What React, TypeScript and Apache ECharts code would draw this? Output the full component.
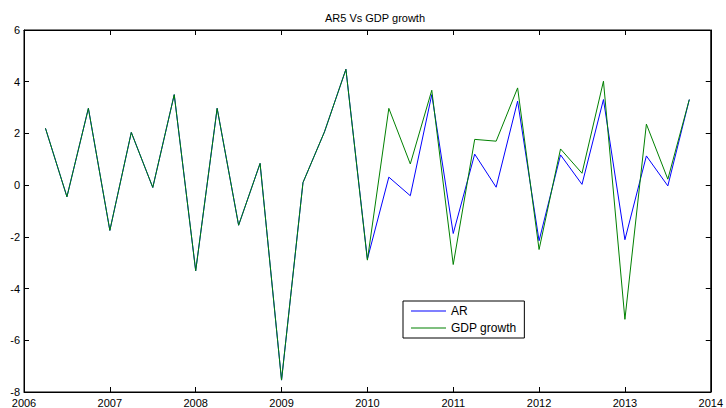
import React, { useEffect, useRef } from "react";
import * as echarts from "echarts";

const quarters = [
  2006.25, 2006.5, 2006.75, 2007, 2007.25, 2007.5, 2007.75, 2008, 2008.25, 2008.5, 2008.75,
  2009, 2009.25, 2009.5, 2009.75, 2010, 2010.25, 2010.5, 2010.75, 2011, 2011.25, 2011.5,
  2011.75, 2012, 2012.25, 2012.5, 2012.75, 2013, 2013.25, 2013.5, 2013.75,
];

const arValues = [
  2.2, -0.45, 2.97, -1.75, 2.04, -0.09, 3.5, -3.31, 2.97, -1.55, 0.84,
  -7.54, 0.1, 2.06, 4.48, -2.86, 0.31, -0.41, 3.5, -1.87, 1.2, -0.08,
  3.25, -2.15, 1.17, 0.03, 3.31, -2.11, 1.13, -0.03, 3.31,
];

const gdpValues = [
  2.2, -0.45, 2.97, -1.75, 2.04, -0.09, 3.5, -3.31, 2.97, -1.55, 0.84,
  -7.54, 0.1, 2.06, 4.48, -2.9, 2.97, 0.82, 3.67, -3.07, 1.77, 1.7,
  3.76, -2.49, 1.4, 0.46, 4.02, -5.19, 2.36, 0.23, 3.31,
];

const FONT = "Liberation Sans, Arial, sans-serif";

export default function App() {
  const ref = useRef<HTMLDivElement>(null);
  useEffect(() => {
    if (!ref.current) return;
    const chart = echarts.init(ref.current, null, { renderer: "svg" });
    const tick = { show: true, inside: true, length: 5, lineStyle: { color: "#000", width: 1 } };
    chart.setOption({
      animation: false,
      backgroundColor: "#fff",
      textStyle: { fontFamily: FONT },
      title: {
        text: "AR5 Vs GDP growth",
        left: 370,
        textAlign: "center",
        top: 7,
        textStyle: { fontSize: 11, fontWeight: "normal", color: "#000", fontFamily: FONT },
      },
      grid: {
        left: 24,
        right: 10,
        top: 30,
        bottom: 16,
        show: true,
        borderColor: "#000",
        borderWidth: 1,
        backgroundColor: "#fff",
      },
      legend: {
        orient: "vertical",
        left: 403,
        top: 301,
        padding: [3, 8, 3, 8],
        itemGap: 3,
        itemWidth: 35,
        itemHeight: 1,
        icon: "rect",
        borderColor: "#000",
        borderWidth: 1,
        backgroundColor: "#fff",
        textStyle: { fontSize: 12, color: "#000", fontFamily: FONT, lineHeight: 14 },
        data: ["AR", "GDP growth"],
      },
      xAxis: [
        {
          type: "value",
          min: 2006,
          max: 2014,
          interval: 1,
          axisLine: { show: true, onZero: false, lineStyle: { color: "#000" } },
          axisTick: tick,
          splitLine: { show: false },
          axisLabel: {
            color: "#000",
            fontSize: 11,
            margin: 5,
            fontFamily: FONT,
            formatter: (v: number) => String(v),
          },
        },
        {
          type: "value",
          position: "top",
          min: 2006,
          max: 2014,
          interval: 1,
          axisLine: { show: true, onZero: false, lineStyle: { color: "#000" } },
          axisTick: tick,
          splitLine: { show: false },
          axisLabel: { show: false },
        },
      ],
      yAxis: [
        {
          type: "value",
          min: -8,
          max: 6,
          interval: 2,
          axisLine: { show: true, onZero: false, lineStyle: { color: "#000" } },
          axisTick: tick,
          splitLine: { show: false },
          axisLabel: { color: "#000", fontSize: 11, margin: 4, fontFamily: FONT },
        },
        {
          type: "value",
          position: "right",
          min: -8,
          max: 6,
          interval: 2,
          axisLine: { show: true, onZero: false, lineStyle: { color: "#000" } },
          axisTick: tick,
          splitLine: { show: false },
          axisLabel: { show: false },
        },
      ],
      series: [
        {
          name: "AR",
          type: "line",
          symbol: "none",
          color: "#0000ff",
          lineStyle: { color: "#0000ff", width: 1 },
          data: quarters.map((q, i) => [q, arValues[i]]),
        },
        {
          name: "GDP growth",
          type: "line",
          symbol: "none",
          color: "#008000",
          lineStyle: { color: "#008000", width: 1 },
          data: quarters.map((q, i) => [q, gdpValues[i]]),
        },
      ],
    });
    return () => chart.dispose();
  }, []);
  return (
    <div
      ref={ref}
      style={{ position: "fixed", left: 0, top: 0, width: 726, height: 408 }}
    />
  );
}
